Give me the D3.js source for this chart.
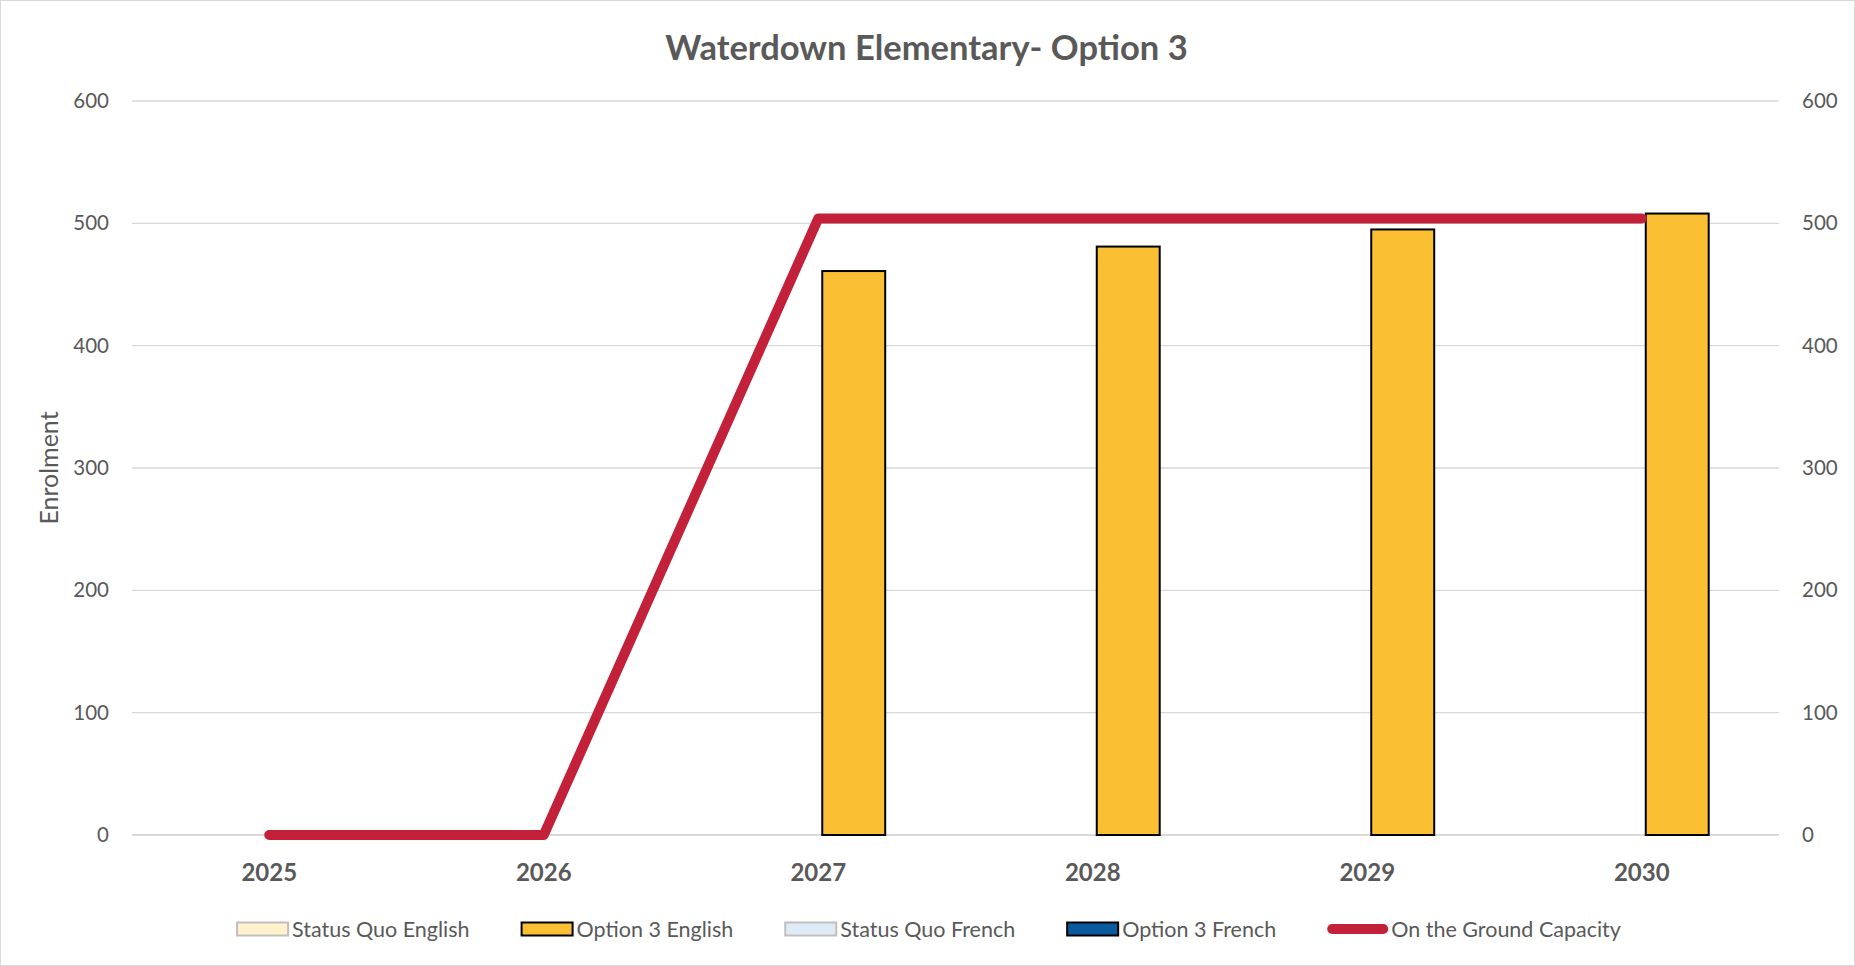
<!DOCTYPE html>
<html>
<head>
<meta charset="utf-8">
<script src="https://cdn.jsdelivr.net/npm/d3@7"></script>
<style>
  html, body { margin: 0; padding: 0; background: #fff; }
  svg { display: block; font-family: Lato, "Open Sans", sans-serif; }
</style>
</head>
<body>
<svg id="chart" width="1855" height="966"></svg>
<script>
// chart data
const years = ["2025", "2026", "2027", "2028", "2029", "2030"];
const statusQuoEnglish = [null, null, null, null, null, null];
const option3English = [null, null, 461, 481, 495, 508];
const statusQuoFrench = [null, null, null, null, null, null];
const option3French = [null, null, null, null, null, null];
const groundCapacity = [0, 0, 504, 504, 504, 504];
const yTicks = [0, 100, 200, 300, 400, 500, 600];

const title = "Waterdown Elementary- Option 3";
const yTitle = "Enrolment";

// series in cluster order, with their legend styles
const barSeries = [
  { name: "Status Quo English", values: statusQuoEnglish, fill: "#FFF2CC", stroke: "#BFBFBF" },
  { name: "Status Quo French", values: statusQuoFrench, fill: "#DEEBF7", stroke: "#BFBFBF" },
  { name: "Option 3 English", values: option3English, fill: "#FBBF33", stroke: "#000" },
  { name: "Option 3 French", values: option3French, fill: "#0B5A9E", stroke: "#000" }
];
const legendOrder = ["Status Quo English", "Option 3 English", "Status Quo French", "Option 3 French"];
const lineColor = "#C32039";

const W = 1855, H = 966;
const margin = { top: 101, bottom: 131, left: 132, right: 76 };

const svg = d3.select("#chart");

// outer border
svg.append("rect")
  .attr("x", 0.5).attr("y", 0.5)
  .attr("width", W - 1).attr("height", H - 1)
  .attr("fill", "#fff").attr("stroke", "#D9D9D9");

const x = d3.scaleBand()
  .domain(years)
  .range([margin.left, W - margin.right])
  .paddingInner(0).paddingOuter(0);

const xs = d3.scaleBand()
  .domain(barSeries.map(s => s.name))
  .range([4, x.bandwidth() + 4])
  .paddingInner(0).paddingOuter(0.18);

const y = d3.scaleLinear()
  .domain([0, 600])
  .range([H - margin.bottom, margin.top]);

// gridlines
svg.append("g")
  .selectAll("line")
  .data(yTicks)
  .join("line")
  .attr("x1", margin.left).attr("x2", W - margin.right)
  .attr("y1", d => y(d)).attr("y2", d => y(d))
  .attr("stroke", "#D9D9D9")
  .attr("stroke-width", d => d === 0 ? 2 : 1.3);

// left axis
const yLeft = svg.append("g")
  .attr("transform", `translate(${margin.left - 23},0)`)
  .call(d3.axisLeft(y).tickValues(yTicks).tickSize(0).tickPadding(0));
yLeft.select(".domain").remove();
yLeft.selectAll("text")
  .attr("font-size", 20.5).attr("fill", "#595959")
  .attr("font-family", "Lato, sans-serif");

// right axis
const yRight = svg.append("g")
  .attr("transform", `translate(${W - margin.right + 23},0)`)
  .call(d3.axisRight(y).tickValues(yTicks).tickSize(0).tickPadding(0));
yRight.select(".domain").remove();
yRight.selectAll("text")
  .attr("font-size", 20.5).attr("fill", "#595959")
  .attr("font-family", "Lato, sans-serif");

// x axis labels
const xAxis = svg.append("g")
  .attr("transform", `translate(0,${H - margin.bottom})`)
  .call(d3.axisBottom(x).tickSize(0).tickPadding(29));
xAxis.select(".domain").remove();
xAxis.selectAll("text")
  .attr("font-size", 24).attr("font-weight", "bold")
  .attr("fill", "#595959")
  .attr("font-family", "Lato, sans-serif");

// bars
barSeries.forEach(s => {
  svg.append("g")
    .selectAll("rect")
    .data(years.map((yr, i) => ({ yr, v: s.values[i] })).filter(d => d.v != null))
    .join("rect")
    .attr("x", d => x(d.yr) + xs(s.name))
    .attr("width", xs.bandwidth())
    .attr("y", d => y(d.v))
    .attr("height", d => y(0) - y(d.v))
    .attr("fill", s.fill)
    .attr("stroke", s.stroke)
    .attr("stroke-width", 2);
});

// capacity line
const line = d3.line()
  .x((d, i) => x(years[i]) + x.bandwidth() / 2)
  .y(d => y(d));

svg.append("path")
  .datum(groundCapacity)
  .attr("d", line)
  .attr("fill", "none")
  .attr("stroke", lineColor)
  .attr("stroke-width", 10)
  .attr("stroke-linecap", "round")
  .attr("stroke-linejoin", "round");

// title
svg.append("text")
  .attr("x", W / 2 - 1).attr("y", 60)
  .attr("text-anchor", "middle")
  .attr("font-size", 34.5).attr("font-weight", "bold")
  .attr("fill", "#595959")
  .text(title);

// y axis title
svg.append("text")
  .attr("transform", `translate(58,${(y(0) + y(600)) / 2}) rotate(-90)`)
  .attr("text-anchor", "middle")
  .attr("font-size", 25)
  .attr("fill", "#595959")
  .text(yTitle);

// legend
const legendItems = legendOrder.map(n => barSeries.find(s => s.name === n))
  .concat([{ name: "On the Ground Capacity", line: true }]);

const legend = svg.append("g");
let lx = 0;
const ly = 929;
const gap = 51;
legendItems.forEach(item => {
  const g = legend.append("g").attr("transform", `translate(${lx},0)`);
  let sw;
  if (item.line) {
    sw = 61;
    g.append("line")
      .attr("x1", 5).attr("x2", sw - 5)
      .attr("y1", ly).attr("y2", ly)
      .attr("stroke", lineColor).attr("stroke-width", 10)
      .attr("stroke-linecap", "round");
  } else {
    sw = 53;
    g.append("rect")
      .attr("x", 1).attr("y", ly - 6.5)
      .attr("width", sw - 2).attr("height", 13)
      .attr("fill", item.fill).attr("stroke", item.stroke).attr("stroke-width", 2);
  }
  const t = g.append("text")
    .attr("x", sw + 3).attr("y", ly)
    .attr("dy", "0.35em")
    .attr("font-size", 21.5)
    .attr("fill", "#595959")
    .text(item.name);
  lx += sw + 3 + t.node().getComputedTextLength() + gap;
});
const legendW = lx - gap;
legend.attr("transform", `translate(${(W - legendW) / 2 + 1},0)`);
</script>
</body>
</html>
